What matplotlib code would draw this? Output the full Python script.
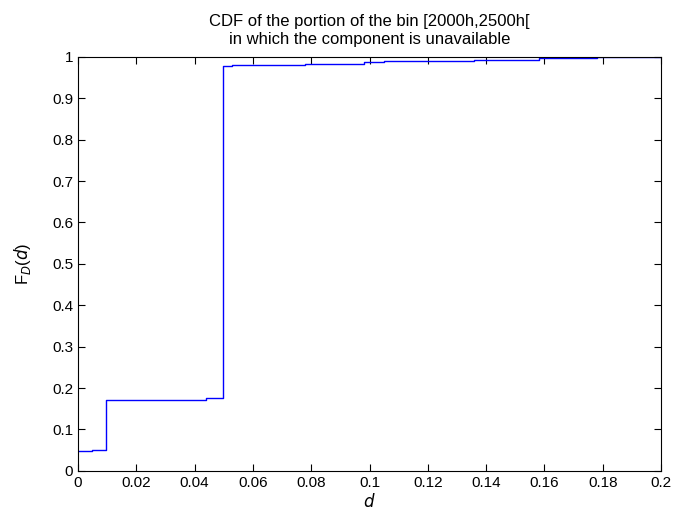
import matplotlib
matplotlib.use("Agg")
from matplotlib import pyplot as plt
import numpy as np

# step positions (d) and CDF value after each step
step_d = [0.0, 0.0047, 0.0097, 0.015, 0.044, 0.0497, 0.053, 0.078, 0.098, 0.105, 0.136, 0.158, 0.178, 0.2]
step_f = [0.047, 0.050, 0.170, 0.172, 0.175, 0.978, 0.980, 0.983, 0.987, 0.990, 0.993, 0.997, 1.0, 1.0]

x_ticks = [0, 0.02, 0.04, 0.06, 0.08, 0.1, 0.12, 0.14, 0.16, 0.18, 0.2]
x_labels = ["0", "0.02", "0.04", "0.06", "0.08", "0.1", "0.12", "0.14", "0.16", "0.18", "0.2"]
y_ticks = [0, 0.1, 0.2, 0.3, 0.4, 0.5, 0.6, 0.7, 0.8, 0.9, 1]
y_labels = ["0", "0.1", "0.2", "0.3", "0.4", "0.5", "0.6", "0.7", "0.8", "0.9", "1"]

plt.rcParams["font.family"] = ["Liberation Sans", "DejaVu Sans"]
plt.rcParams["font.size"] = 11

fig = plt.figure(figsize=(6.78, 5.22), dpi=100)
ax = fig.add_axes([0.115, 0.098, 0.86, 0.793])

ax.step(step_d, step_f, where="post", color="#0000ff", linewidth=1.0)

ax.set_xlim(0, 0.2)
ax.set_ylim(0, 1)
ax.set_xticks(x_ticks)
ax.set_xticklabels(x_labels)
ax.set_yticks(y_ticks)
ax.set_yticklabels(y_labels)
ax.tick_params(direction="in", top=True, right=True, length=5, width=0.8, labelsize=11)
for s in ax.spines.values():
	s.set_linewidth(0.8)

ax.set_xlabel("$d$", fontsize=12, labelpad=2)
ax.set_ylabel(r"F$_{D}$($d$)", fontsize=12, labelpad=14)
ax.set_title("CDF of the portion of the bin [2000h,2500h[\nin which the component is unavailable",
	fontsize=12, linespacing=1.25, pad=9)

fig.savefig("out.png", dpi=100)
